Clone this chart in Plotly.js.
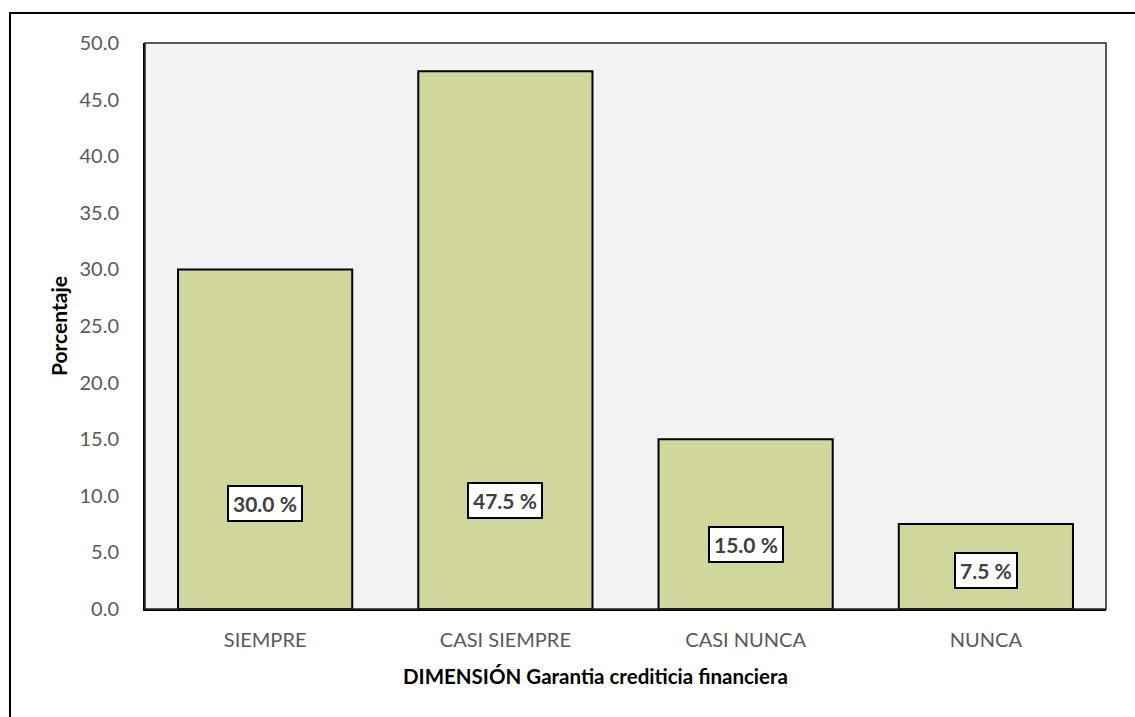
<!DOCTYPE html>
<html>
<head>
<meta charset="utf-8">
<script src="https://cdn.plot.ly/plotly-3.0.1.min.js"></script>
<style>html,body{margin:0;padding:0;background:#fff;}#chart{width:1135px;height:717px;}</style>
</head>
<body>
<div id="chart"></div>
<script>
const categories = ["SIEMPRE", "CASI SIEMPRE", "CASI NUNCA", "NUNCA"];
const values = [30.0, 47.5, 15.0, 7.5];
const labelTexts = ["30.0 %", "47.5 %", "15.0 %", "7.5 %"];
const yTicks = [0, 5, 10, 15, 20, 25, 30, 35, 40, 45, 50];

const FONT = "Lato, 'Open Sans', sans-serif";
const labelLevels = [9.35, 9.6, 5.7, 3.4];

const trace = {
  type: "bar",
  x: categories,
  y: values,
  marker: {color: "#D1D69C", line: {color: "#000000", width: 2}},
  width: 0.725,
  hoverinfo: "x+y"
};

const annotations = categories.map((c, i) => ({
  x: c, y: labelLevels[i], xref: "x", yref: "y",
  text: "<b>" + labelTexts[i] + "</b>",
  showarrow: false,
  font: {family: FONT, size: 21, color: "#404040"},
  bgcolor: "#FFFFFF", bordercolor: "#000000", borderwidth: 2, borderpad: 4
}));
annotations.push({
  xref: "paper", yref: "paper", x: 0.469, y: -0.118, xanchor: "center", yanchor: "middle",
  text: "<b>DIMENSIÓN Garantia crediticia financiera</b>", showarrow: false,
  font: {family: FONT, size: 20.5, color: "#000000"}
});

const layout = {
  width: 1135, height: 717,
  margin: {l: 145, r: 29, t: 43, b: 108},
  paper_bgcolor: "#FFFFFF",
  plot_bgcolor: "#F2F2F2",
  showlegend: false,
  font: {family: FONT},
  xaxis: {
    type: "category",
    showgrid: false, zeroline: false,
    showline: true, linecolor: "#000000", linewidth: 2,
    ticks: "", ticklen: 0,
    ticklabelstandoff: 12,
    tickfont: {family: FONT, size: 20, color: "#595959"},
    tickangle: 0
  },
  yaxis: {
    range: [0, 50],
    tickvals: yTicks,
    ticktext: yTicks.map(v => v.toFixed(1)),
    showgrid: false, zeroline: false,
    showline: true, linecolor: "#000000", linewidth: 2,
    ticks: "", ticklen: 0,
    ticklabelstandoff: 20,
    tickfont: {family: FONT, size: 20, color: "#595959"},
    title: {text: "<b>Porcentaje</b>", font: {family: FONT, size: 21, color: "#000000"}, standoff: 6}
  },
  shapes: [
    {type: "rect", xref: "paper", yref: "paper", x0: 0, x1: 1, y0: 0, y1: 1,
     line: {color: "#262626", width: 1.5}, fillcolor: "rgba(0,0,0,0)", layer: "above"},
    {type: "rect", xref: "paper", yref: "paper", x0: -0.1405, x1: 1.2, y0: -0.3, y1: 1.053,
     line: {color: "#000000", width: 2}, fillcolor: "rgba(0,0,0,0)", layer: "below"}
  ],
  annotations: annotations,
  bargap: 0.275
};

Plotly.newPlot("chart", [trace], layout, {displayModeBar: false, staticPlot: true});
</script>
</body>
</html>
